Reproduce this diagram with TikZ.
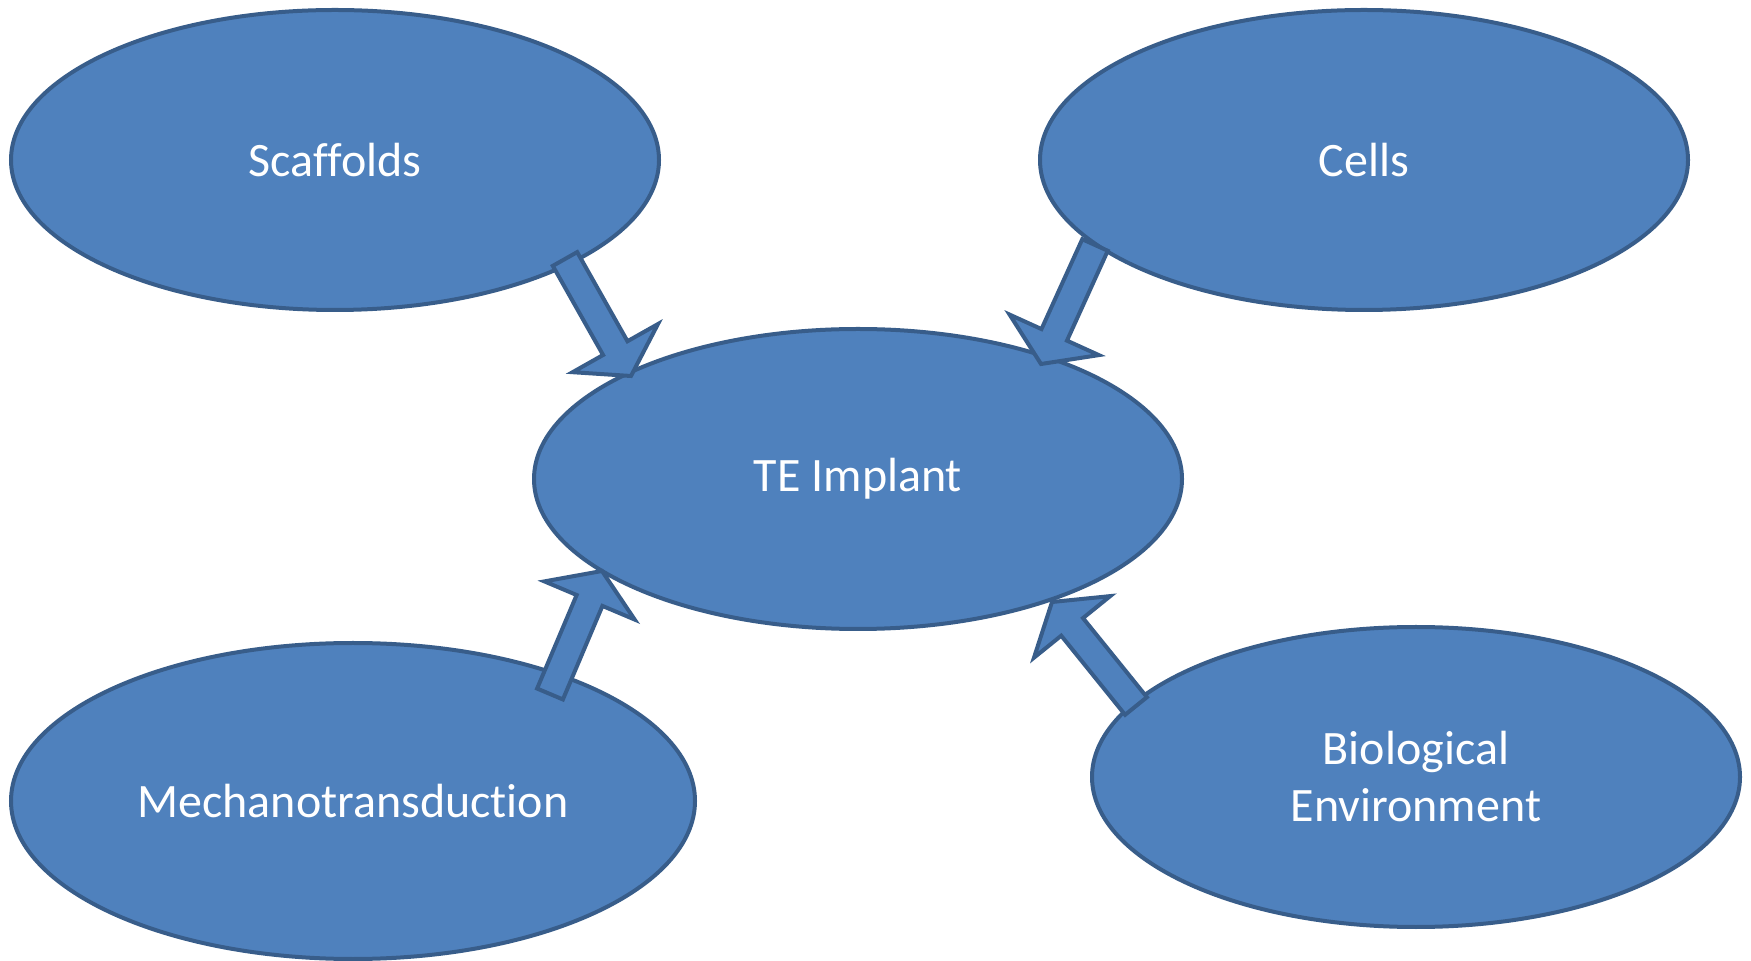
\documentclass[tikz,border=0pt]{standalone}
\usepackage{fontspec}
\setmainfont{Carlito}[Ligatures=NoCommon]
\usetikzlibrary{shapes.geometric,calc}

\definecolor{ovalfill}{HTML}{4F81BD}
\definecolor{ovaledge}{HTML}{385D8A}

% fat block arrow from #1 (tail) to #2 (tip)
\newcommand{\blockarrow}[2]{%
  \coordinate (neck) at ($(#2)!16pt!(#1)$);
  \draw[blockarrow] ($(#1)!7pt!90:(#2)$) -- ($(neck)!7pt!90:(#2)$)
    -- ($(neck)!24.5pt!90:(#2)$) -- (#2) -- ($(neck)!24.5pt!-90:(#2)$)
    -- ($(neck)!7pt!-90:(#2)$) -- ($(#1)!7pt!-90:(#2)$) -- cycle;
}

\begin{document}
\begin{tikzpicture}[x=0.5pt, y=-0.5pt,
    oval/.style={ellipse, draw=ovaledge, fill=ovalfill, line width=2pt,
      inner sep=0pt, text=white, align=center,
      font=\fontsize{24}{28.5}\selectfont},
    blockarrow/.style={draw=ovaledge, fill=ovalfill, line width=2pt, line join=miter}]
  \useasboundingbox (0,0) rectangle (1751,961);

  % 1. the five ovals
  \node[oval, minimum width=324pt, minimum height=150pt] (scaffolds) at (335,160) {Scaffolds};
  \node[oval, minimum width=324pt, minimum height=150pt] (cells) at (1364,160) {Cells};
  \node[oval, minimum width=324pt, minimum height=150pt] (implant) at (858,479) {TE Implant};
  \node[oval, minimum width=342pt, minimum height=158pt] (mechano) at (353,801) {Mechanotransduction};
  \node[oval, minimum width=324pt, minimum height=150pt] (bioenv) at (1416,777) {Biological\\Environment};

  % 2. arrow ends
  \coordinate (scaffoldsout) at (565,259);
  \coordinate (scaffoldsin)  at (631,376);
  \coordinate (cellsout)     at (1095,245);
  \coordinate (cellsin)      at (1041,364);
  \coordinate (mechanoout)   at (550,694);
  \coordinate (mechanoin)    at (602,571);
  \coordinate (bioenvout)    at (1136,706);
  \coordinate (bioenvin)     at (1052,602);

  % 3. block arrows into the implant
  \blockarrow{scaffoldsout}{scaffoldsin}
  \blockarrow{cellsout}{cellsin}
  \blockarrow{mechanoout}{mechanoin}
  \blockarrow{bioenvout}{bioenvin}
\end{tikzpicture}
\end{document}
